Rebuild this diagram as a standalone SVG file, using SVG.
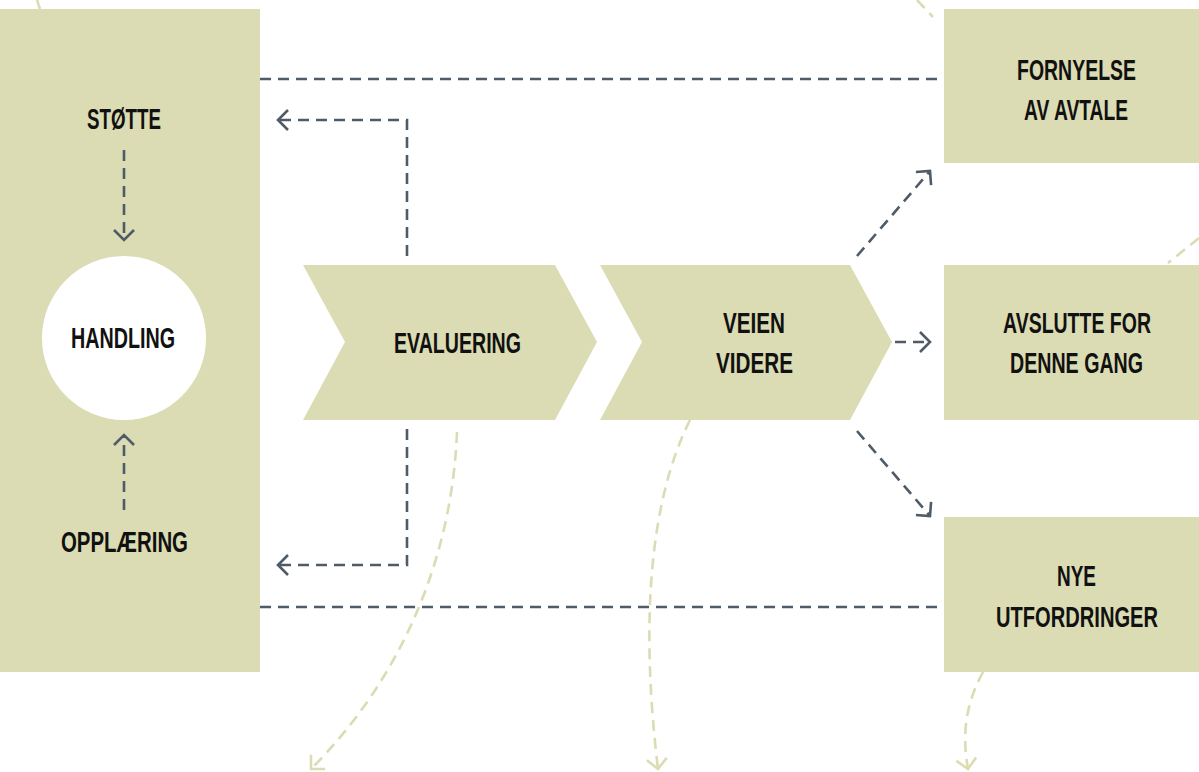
<svg xmlns="http://www.w3.org/2000/svg" width="1199" height="772" viewBox="0 0 1199 772">
<style>
.box{fill:#dbdcb3}
.lbl{font-family:"Liberation Sans",Arial,sans-serif;font-weight:bold;font-size:29px;fill:#111;text-anchor:start}
.dk{fill:none;stroke:#4f5b66;stroke-width:2.6;stroke-dasharray:11 7}
.lt{fill:none;stroke:#dbdcb3;stroke-width:2.6;stroke-dasharray:11 7}
</style>
<defs>
<marker id="ad" viewBox="0 0 14 22" refX="12" refY="11" markerWidth="14" markerHeight="22" markerUnits="userSpaceOnUse" orient="auto">
<path d="M2,1 L12,11 L2,21" fill="none" stroke="#4f5b66" stroke-width="2.6"/>
</marker>
<marker id="al" viewBox="0 0 14 22" refX="12" refY="11" markerWidth="14" markerHeight="22" markerUnits="userSpaceOnUse" orient="auto">
<path d="M2,1 L12,11 L2,21" fill="none" stroke="#dbdcb3" stroke-width="2.6"/>
</marker>
</defs>
<rect width="1199" height="772" fill="#fff"/>

<g id="light-connectors">
<path class="lt" d="M37,0 L40,9" stroke-dasharray="none"/>
<path class="lt" d="M917,0 L933,17"/>
<path class="lt" d="M1199,238 L1168,263"/>
<path class="lt" d="M457,432 C452,560 400,680 311,769" marker-end="url(#al)"/>
<path class="lt" d="M690,420 C650,500 640,620 658,769" marker-end="url(#al)"/>
<path class="lt" d="M983,672 C965,705 962,735 968,769" marker-end="url(#al)"/>
</g>

<g id="panel-left">
<rect class="box" x="0" y="9" width="260" height="663"/>
</g>
<g id="node-handling">
<circle cx="124" cy="338" r="82" fill="#fff"/>
<text class="lbl" x="71" y="348" textLength="104" lengthAdjust="spacingAndGlyphs">HANDLING</text>
</g>
<g id="node-stotte">
<text class="lbl" x="87" y="129" textLength="74" lengthAdjust="spacingAndGlyphs">STØTTE</text>
</g>
<g id="node-opplaering">
<text class="lbl" x="61" y="552" textLength="127" lengthAdjust="spacingAndGlyphs">OPPLÆRING</text>
</g>
<g id="node-evaluering">
<polygon class="box" points="303,265 555,265 597,342 555,420 303,420 345,342"/>
<text class="lbl" x="394" y="353" textLength="127" lengthAdjust="spacingAndGlyphs">EVALUERING</text>
</g>
<g id="node-veien">
<polygon class="box" points="600,265 850,265 892,342 850,420 600,420 642,342"/>
<text class="lbl" x="723" y="333" textLength="62" lengthAdjust="spacingAndGlyphs">VEIEN</text>
<text class="lbl" x="716" y="373" textLength="77" lengthAdjust="spacingAndGlyphs">VIDERE</text>
</g>
<g id="node-fornyelse">
<rect class="box" x="944" y="9" width="255" height="154"/>
<text class="lbl" x="1017" y="80" textLength="119" lengthAdjust="spacingAndGlyphs">FORNYELSE</text>
<text class="lbl" x="1024" y="120" textLength="104" lengthAdjust="spacingAndGlyphs">AV AVTALE</text>
</g>
<g id="node-avslutte">
<rect class="box" x="944" y="265" width="255" height="155"/>
<text class="lbl" x="1003" y="333" textLength="148" lengthAdjust="spacingAndGlyphs">AVSLUTTE FOR</text>
<text class="lbl" x="1010" y="373" textLength="133" lengthAdjust="spacingAndGlyphs">DENNE GANG</text>
</g>
<g id="node-nye">
<rect class="box" x="944" y="517" width="255" height="155"/>
<text class="lbl" x="1057" y="586" textLength="39" lengthAdjust="spacingAndGlyphs">NYE</text>
<text class="lbl" x="996" y="627" textLength="162" lengthAdjust="spacingAndGlyphs">UTFORDRINGER</text>
</g>

<g id="connectors">
<path class="dk" d="M124,150 L124,240" marker-end="url(#ad)"/>
<path class="dk" d="M124,510 L124,435" marker-end="url(#ad)"/>
<path class="dk" d="M407,256 L407,120 L278,120" marker-end="url(#ad)"/>
<path class="dk" d="M407,429 L407,565 L278,565" marker-end="url(#ad)"/>
<path class="dk" d="M260,79 L940,79"/>
<path class="dk" d="M260,607 L940,607"/>
<path class="dk" d="M857,256 L930,171" marker-end="url(#ad)"/>
<path class="dk" d="M895,342 L930,342" marker-end="url(#ad)"/>
<path class="dk" d="M857,431 L930,516" marker-end="url(#ad)"/>
</g>
</svg>
